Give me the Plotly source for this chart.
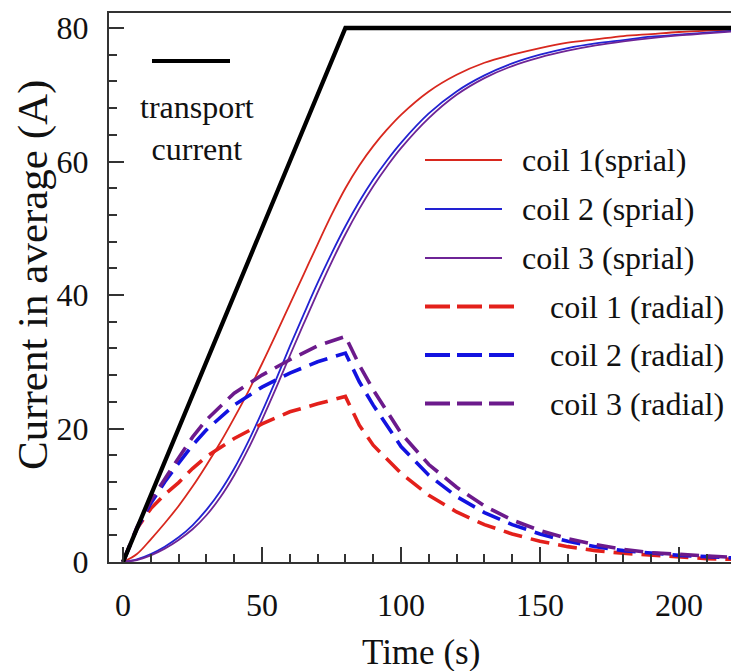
import plotly.graph_objects as go

# ---------------- data ----------------
t_transport = [0, 80, 220]
i_transport = [0, 80, 80]

t_spiral = [0, 5, 10, 15, 20, 25, 30, 35, 40, 45, 50, 55, 60, 65, 70, 75, 80, 85, 90, 95, 100,
            110, 120, 130, 140, 150, 160, 170, 180, 190, 200, 210, 220]
coil1_spiral = [0, 1.2, 3.4, 5.8, 8.4, 11.3, 14.5, 17.9, 21.6, 25.5, 29.7, 34.1, 38.6, 43.1, 47.6,
                52.0, 56.0, 59.4, 62.3, 64.8, 67.0, 70.5, 73.0, 74.8, 76.0, 77.0, 77.8, 78.3,
                78.8, 79.1, 79.4, 79.6, 79.8]
coil2_spiral = [0, 0.4, 1.2, 2.3, 3.7, 5.5, 7.8, 10.6, 14.0, 18.0, 22.5, 27.3, 32.3, 37.1, 41.8,
                46.2, 50.3, 54.0, 57.3, 60.2, 62.8, 67.2, 70.5, 72.9, 74.7, 76.0, 77.0, 77.7,
                78.2, 78.7, 79.0, 79.3, 79.6]
coil3_spiral = [0, 0.3, 1.0, 2.0, 3.3, 4.9, 7.0, 9.7, 13.0, 16.9, 21.3, 26.0, 30.9, 35.7, 40.4,
                44.9, 49.1, 52.9, 56.3, 59.3, 62.0, 66.5, 70.0, 72.5, 74.3, 75.6, 76.6, 77.4,
                78.0, 78.5, 78.9, 79.2, 79.5]

t_radial = [0, 5, 10, 15, 20, 25, 30, 40, 50, 60, 70, 80, 85, 90, 100, 110, 120, 130, 140, 150,
            160, 170, 180, 190, 200, 210, 220]
coil1_radial = [0, 5.0, 8.0, 10.1, 11.9, 14.0, 15.8, 18.5, 20.7, 22.5, 23.7, 24.8, 20.5, 17.5,
                13.3, 10.0, 7.5, 5.6, 4.2, 3.1, 2.3, 1.7, 1.3, 1.0, 0.7, 0.5, 0.4]
coil2_radial = [0, 5.0, 8.8, 12.0, 14.8, 17.5, 19.8, 23.5, 26.2, 28.3, 30.0, 31.3, 27.0, 23.5,
                17.3, 13.0, 9.8, 7.4, 5.6, 4.2, 3.1, 2.3, 1.7, 1.3, 1.0, 0.8, 0.6]
coil3_radial = [0, 5.2, 9.2, 12.5, 15.6, 18.7, 21.3, 25.3, 28.0, 30.3, 32.4, 33.8, 29.5, 25.8,
                19.3, 14.6, 11.2, 8.4, 6.3, 4.7, 3.5, 2.6, 1.9, 1.4, 1.1, 0.9, 0.7]

x_tick_vals = [0, 50, 100, 150, 200]
y_tick_vals = [0, 20, 40, 60, 80]

legend_labels = ["coil 1(sprial)", "coil 2 (sprial)", "coil 3 (sprial)",
                 "coil 1 (radial)", "coil 2 (radial)", "coil 3 (radial)"]

# ---------------- styles ----------------
W, H = 731, 671
ML, MR, MT, MB = 109, 0, 13, 109
FONT = "Liberation Serif"
TXT = "#111111"

RED_S, BLUE_S, PURP_S = "#d8281e", "#2222d2", "#6e2496"
RED_D, BLUE_D, PURP_D = "#e3201b", "#1212e0", "#6c1a8c"
DASH = "19px,9px"

fig = go.Figure()

series = [
    (t_spiral, coil1_spiral, RED_S, "solid", 1.8, "spline"),
    (t_spiral, coil2_spiral, BLUE_S, "solid", 1.8, "spline"),
    (t_spiral, coil3_spiral, PURP_S, "solid", 1.8, "spline"),
    (t_radial, coil1_radial, RED_D, DASH, 3.6, "linear"),
    (t_radial, coil2_radial, BLUE_D, DASH, 3.6, "linear"),
    (t_radial, coil3_radial, PURP_D, DASH, 3.6, "linear"),
]
for (xs, ys, col, dash, w, shp), name in zip(series, legend_labels):
    fig.add_trace(go.Scatter(x=xs, y=ys, mode="lines", name=name, showlegend=False,
                             line=dict(color=col, width=w, dash=dash, shape=shp)))

fig.add_trace(go.Scatter(x=t_transport, y=i_transport, mode="lines", name="transport current",
                         showlegend=False, line=dict(color="black", width=4.3)))

# ---------------- manual legend (pixel positions converted to paper) ----------------
PW, PH = W - ML - MR, H - MT - MB
def px(x):
    return (x - ML) / PW
def py(y):
    return (H - MB - y) / PH

shapes = []
annotations = []
shapes.append(dict(type="line", xref="paper", yref="paper", x0=px(152), x1=px(230),
                   y0=py(61), y1=py(61), line=dict(color="black", width=4)))
annotations.append(dict(xref="paper", yref="paper", x=px(197), y=py(128), text="transport<br>current",
                        showarrow=False, xanchor="center", yanchor="middle", align="center",
                        font=dict(family=FONT, size=32, color=TXT)))

rows_y = [160, 209, 258, 306.5, 355, 403.5]
for k, (ry, lab) in enumerate(zip(rows_y, legend_labels)):
    col = series[k][2]
    dashed = k >= 3
    shapes.append(dict(type="line", xref="paper", yref="paper", x0=px(425),
                       x1=px(515 if dashed else 502), y0=py(ry), y1=py(ry),
                       line=dict(color=col, width=4 if dashed else 2,
                                 dash="25px,7px" if dashed else "solid")))
    annotations.append(dict(xref="paper", yref="paper", x=px(548 if dashed else 520), y=py(ry),
                            text=lab, showarrow=False, xanchor="left", yanchor="middle",
                            font=dict(family=FONT, size=32, color=TXT)))

annotations.append(dict(xref="paper", yref="paper", x=px(421), y=py(652), text="Time (s)",
                        showarrow=False, xanchor="center", yanchor="middle",
                        font=dict(family=FONT, size=35, color=TXT)))
annotations.append(dict(xref="paper", yref="paper", x=px(33), y=py(275),
                        text="Current in average (A)", textangle=-90,
                        showarrow=False, xanchor="center", yanchor="middle",
                        font=dict(family=FONT, size=43, color=TXT)))

fig.update_layout(
    width=W, height=H,
    margin=dict(l=ML, r=MR, t=MT, b=MB, pad=0),
    paper_bgcolor="white", plot_bgcolor="white",
    font=dict(family=FONT, size=32, color=TXT),
    showlegend=False,
    shapes=shapes, annotations=annotations,
)
fig.update_xaxes(
    range=[-5.04, 218.7], showgrid=False, zeroline=False,
    showline=True, linecolor="#333", linewidth=2, mirror=True,
    tickmode="array", tickvals=x_tick_vals, ticktext=[str(v) for v in x_tick_vals],
    ticks="inside", ticklen=15, tickwidth=2, tickcolor="#333",
    minor=dict(ticks="inside", ticklen=8, tickwidth=2, tickcolor="#333", dtick=10, tick0=0),
    tickfont=dict(family=FONT, size=32, color=TXT), ticklabelstandoff=14,
)
fig.update_yaxes(
    range=[0, 82.25], showgrid=False, zeroline=False,
    showline=True, linecolor="#333", linewidth=2, mirror=False,
    tickmode="array", tickvals=y_tick_vals, ticktext=[str(v) for v in y_tick_vals],
    ticks="inside", ticklen=15, tickwidth=2, tickcolor="#333",
    minor=dict(ticks="inside", ticklen=8, tickwidth=2, tickcolor="#333", dtick=4, tick0=0),
    tickfont=dict(family=FONT, size=32, color=TXT), ticklabelstandoff=12,
)

fig.write_html("out.html")
